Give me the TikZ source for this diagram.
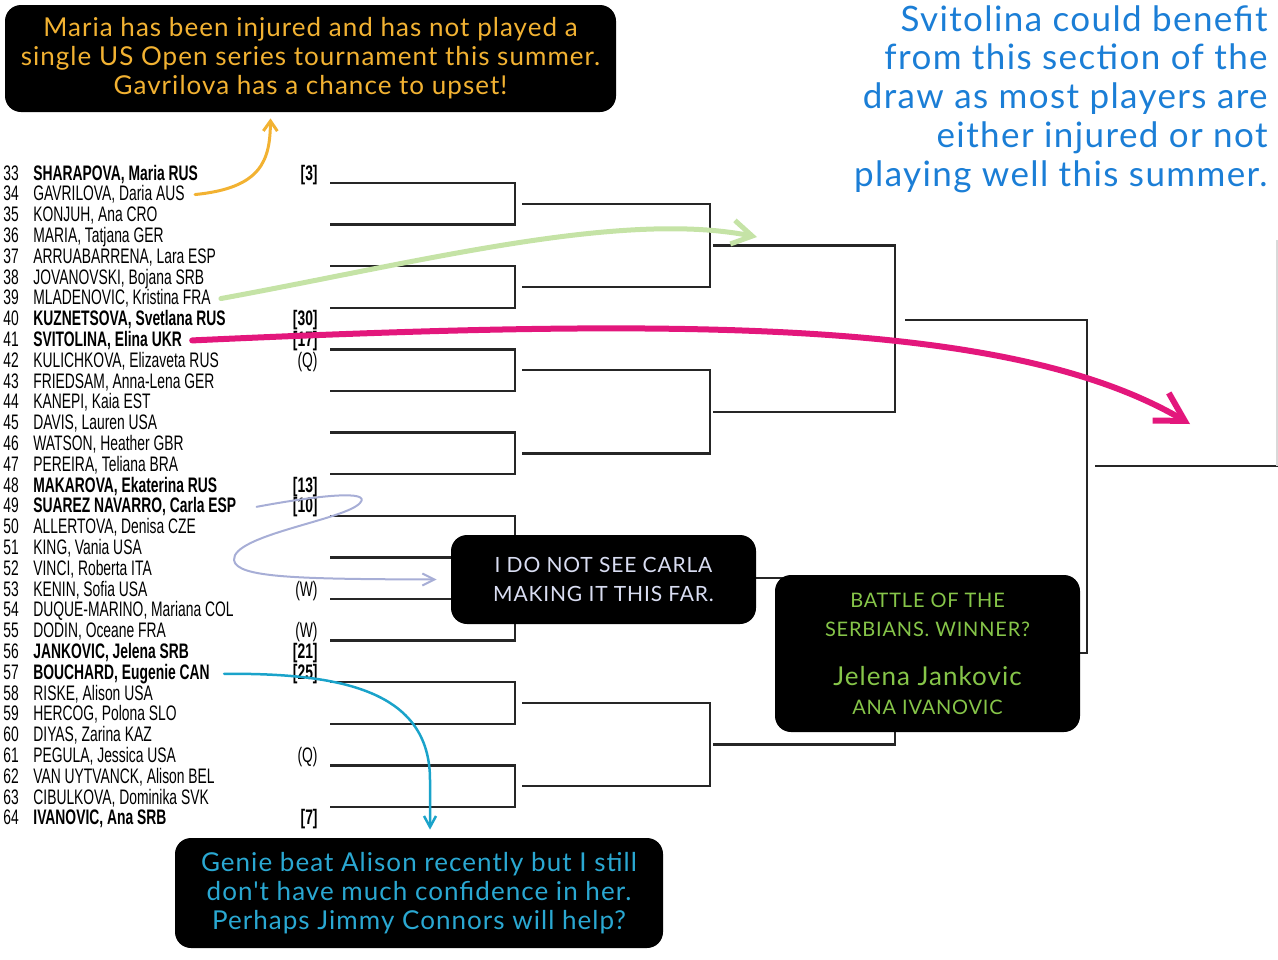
\documentclass[tikz,border=0pt]{standalone}
\usepackage{fontspec}
\usepackage{xcolor}
\usepackage{tikz}
\usetikzlibrary{arrows.meta, positioning, calc}
\newfontfamily\listfont[FakeStretch=0.66]{Liberation Sans}
\newfontfamily\handfont[LetterSpace=4]{Lato}
\definecolor{marianote}{HTML}{F2B232}
\definecolor{svitblue}{HTML}{1B7ED6}
\definecolor{kristgreen}{HTML}{C5E3A6}
\definecolor{svitpink}{HTML}{E3177C}
\definecolor{carlalav}{HTML}{A7AED6}
\definecolor{carlatext}{HTML}{D9DDF2}
\definecolor{serbgreen}{HTML}{86C549}
\definecolor{genieteal}{HTML}{1AA3CA}
\definecolor{genietext}{HTML}{2AA8D2}

\begin{document}
\begin{tikzpicture}[x=0.5pt, y=-0.5pt,
  bline/.style={line width=1.2pt, draw=black!85},
  num/.style={anchor=base west, inner sep=0pt, font=\listfont\fontsize{10.5}{11}\selectfont},
  who/.style={anchor=base west, inner sep=0pt, font=\listfont\fontsize{10.5}{11}\selectfont},
  seed/.style={anchor=base east, inner sep=0pt, font=\listfont\fontsize{10.5}{11}\selectfont},
  note/.style={rectangle, rounded corners=8pt, fill=black, align=center, inner sep=0pt},
  barb/.style={line cap=round, line join=round}
]
\useasboundingbox (0,0) rectangle (1278,959);

\foreach \n/\who/\seed/\b [count=\i from 0] in {
  33/{SHARAPOVA, Maria RUS}/{[3]}/1, 34/{GAVRILOVA, Daria AUS}/{}/0,
  35/{KONJUH, Ana CRO}/{}/0, 36/{MARIA, Tatjana GER}/{}/0,
  37/{ARRUABARRENA, Lara ESP}/{}/0, 38/{JOVANOVSKI, Bojana SRB}/{}/0,
  39/{MLADENOVIC, Kristina FRA}/{}/0, 40/{KUZNETSOVA, Svetlana RUS}/{[30]}/1,
  41/{SVITOLINA, Elina UKR}/{[17]}/1, 42/{KULICHKOVA, Elizaveta RUS}/{(Q)}/0,
  43/{FRIEDSAM, Anna-Lena GER}/{}/0, 44/{KANEPI, Kaia EST}/{}/0,
  45/{DAVIS, Lauren USA}/{}/0, 46/{WATSON, Heather GBR}/{}/0,
  47/{PEREIRA, Teliana BRA}/{}/0, 48/{MAKAROVA, Ekaterina RUS}/{[13]}/1,
  49/{SUAREZ NAVARRO, Carla ESP}/{[10]}/1, 50/{ALLERTOVA, Denisa CZE}/{}/0,
  51/{KING, Vania USA}/{}/0, 52/{VINCI, Roberta ITA}/{}/0,
  53/{KENIN, Sofia USA}/{(W)}/0, 54/{DUQUE-MARINO, Mariana COL}/{}/0,
  55/{DODIN, Oceane FRA}/{(W)}/0, 56/{JANKOVIC, Jelena SRB}/{[21]}/1,
  57/{BOUCHARD, Eugenie CAN}/{[25]}/1, 58/{RISKE, Alison USA}/{}/0,
  59/{HERCOG, Polona SLO}/{}/0, 60/{DIYAS, Zarina KAZ}/{}/0,
  61/{PEGULA, Jessica USA}/{(Q)}/0, 62/{VAN UYTVANCK, Alison BEL}/{}/0,
  63/{CIBULKOVA, Dominika SVK}/{}/0, 64/{IVANOVIC, Ana SRB}/{[7]}/1}
{
  \node[num] (n\n) at (3,{180+20.8*\i}) {\n};
  \node[who] (p\n) at (33,{180+20.8*\i}) {\ifnum\b=1 \bfseries\fi\who};
  \node[seed] (s\n) at (318,{180+20.8*\i}) {\ifnum\b=1 \bfseries\fi\seed};
}

\foreach \k in {0,...,7}
  \draw[bline] (330,{183+83.2*\k}) -| (515,{224.6+83.2*\k}) -- (330,{224.6+83.2*\k});
\foreach \k in {0,...,3}
  \draw[bline] (522,{203.8+166.4*\k}) -| (710,{287+166.4*\k}) -- (522,{287+166.4*\k});
\foreach \k in {0,1}
  \draw[bline] (713,{245.4+332.8*\k}) -| (895,{411.8+332.8*\k}) -- (713,{411.8+332.8*\k});
\draw[bline] (905,320) -| (1087,653) -- (905,653);
\draw[bline] (1095,466) -- (1278,466);
\draw[gray!30, line width=0.6pt] (1277,240) -- (1277,466);

\node[note, minimum width=305.5pt, minimum height=53.5pt, text=marianote,
  font=\handfont\fontsize{13}{14.5}\selectfont] (maria) at (310.5,58.5)
  {Maria has been injured and has not played a\\single US Open series tournament this summer.\\Gavrilova has a chance to upset!};
\node[anchor=north east, align=right, inner sep=0pt, text=svitblue,
  font=\handfont\fontsize{17.5}{19.4}\selectfont] (svit) at (1268,5)
  {Svitolina could benefit\\from this section of the\\draw as most players are\\either injured or not\\playing well this summer.};
\node[note, minimum width=152.5pt, minimum height=44.5pt, text=carlatext,
  font=\handfont\fontsize{10.5}{14.5}\selectfont] (carla) at (603.5,579.5)
  {I DO NOT SEE CARLA\\MAKING IT THIS FAR.};
\node[note, minimum width=152.5pt, minimum height=78.5pt, text=serbgreen,
  font=\handfont\fontsize{10}{14.5}\selectfont] (serbs) at (927.5,653.5)
  {BATTLE OF THE\\SERBIANS. WINNER?\\[10pt]{\fontsize{13}{15}\selectfont Jelena Jankovic}\\ANA IVANOVIC};
\node[note, minimum width=244pt, minimum height=55pt, text=genietext,
  font=\handfont\fontsize{13}{14.5}\selectfont] (genie) at (419,893)
  {Genie beat Alison recently but I still\\don't have much confidence in her.\\Perhaps Jimmy Connors will help?};

\coordinate (kristtip) at (757,237);
\coordinate (svittip) at (1190,424);

\draw[barb, marianote, line width=1.5pt, -{Straight Barb[length=5pt, width=7pt]}]
  ([xshift=5pt]p34.east) .. controls (262,188) and (270,160) .. ([xshift=-20pt, yshift=-3pt]maria.south);
\draw[barb, kristgreen, line width=2.5pt, -{Straight Barb[length=10pt, width=12pt]}]
  ([xshift=5pt]p39.east) .. controls (420,262) and (620,210) .. (kristtip);
\draw[barb, svitpink, line width=3pt, -{Straight Barb[length=14pt, width=16pt]}]
  ([xshift=5pt]p41.east) .. controls (680,318) and (1010,318) .. (svittip);
\draw[barb, carlalav, line width=1pt, -{Straight Barb[length=6pt, width=6pt]}]
  ([xshift=10pt]p49.east) .. controls (320,495) and (372,490) .. (360,503)
  .. controls (345,520) and (232,535) .. (234,560)
  .. controls (236,578) and (300,579) .. ([xshift=-7pt]carla.west);
\draw[barb, genieteal, line width=1.25pt, -{Straight Barb[length=5.5pt, width=6pt]}]
  ([xshift=7pt]p57.east) .. controls (340,673) and (430,690) .. (430,780)
  -- ([xshift=5.5pt, yshift=4pt]genie.north);
\end{tikzpicture}
\end{document}
